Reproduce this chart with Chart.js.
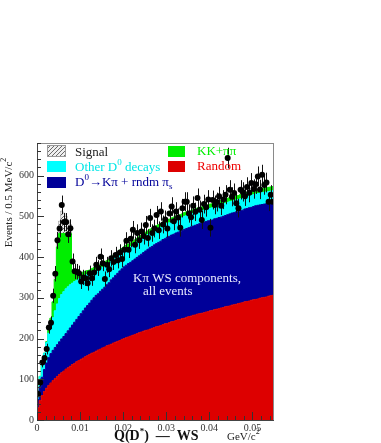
<!DOCTYPE html>
<html><head><meta charset="utf-8">
<script src="https://cdn.jsdelivr.net/npm/chart.js@4.4.1/dist/chart.umd.min.js"></script>
<style>html,body{margin:0;padding:0;background:#fff;}canvas{display:block;}</style>
</head><body>
<canvas id="c" width="381" height="443"></canvas>
<script>
// ---- binning (GeV) ----
const binWidth = 0.0005;
const nBins = 110;
const xTickLabels = ['0', '0.01', '0.02', '0.03', '0.04', '0.05'];
const yTickLabels = ['0', '100', '200', '300', '400', '500', '600'];

// ---- stacked components (events per bin) ----
const random = [30,48,60,70,78,85,91,97,102,107,112,116,120,125,128,132,136,139,143,146,149,152,155,158,161,164,166,169,172,174,177,179,182,184,186,189,191,193,195,198,200,202,204,206,208,210,212,214,216,218,220,221,223,225,227,229,230,232,234,236,237,239,241,242,244,246,247,249,250,252,254,255,257,258,260,261,262,263,265,266,268,269,271,272,273,275,276,278,279,280,282,283,284,286,287,288,290,291,292,294,295,296,297,299,300,301,302,304,305,306];
const d0KpiRndm = [20,34,45,54,62,68,72,74,76,78,80,83,85,87,91,94,97,101,104,108,112,116,120,123,126,130,134,137,138,142,144,147,150,153,158,160,164,167,171,173,176,178,180,181,183,185,187,189,191,193,195,198,200,201,203,204,206,207,209,209,212,212,213,214,215,215,216,216,218,218,218,219,219,220,220,221,222,222,222,223,222,222,223,223,224,223,224,224,225,226,226,226,227,226,227,227,228,228,229,228,229,230,230,229,229,229,229,228,228,228];
const otherD0 = [15,25,35,40,50,60,70,80,90,100,106,109,110,110,108,106,103,100,96,92,88,84,80,76,72,68,65,62,59,56,54,52,50,48,46,45,44,43,42,41,40,40,39,39,39,38,38,38,37,37,37,36,36,36,35,35,35,34,34,34,34,33,33,33,33,32,32,32,32,32,31,31,31,31,31,30,30,30,30,30,30,30,30,30,30,30,30,30,30,30,29,29,29,29,29,29,29,29,29,29,29,29,29,29,29,29,29,29,29,29];
const kkpipi = [0,0,0,0,2,7,17,39,77,140,160,150,143,136,131,126,25,20,16,14,12,11,10,10,9,9,9,9,9,9,9,9,9,9,9,9,9,9,9,9,9,9,9,9,9,9,9,9,9,9,9,9,9,9,9,9,9,9,9,9,9,9,9,9,9,9,9,9,9,9,9,9,9,9,9,9,9,9,9,9,10,10,10,10,10,10,10,10,10,10,10,10,10,10,10,10,10,10,10,10,10,10,10,10,10,10,10,10,10,10];
const signal = [0,0,0,0,0,0,0,0,5,12,30,55,50,42,32,22,6,0,0,0,0,0,0,0,0,0,0,0,0,0,0,0,0,0,0,0,0,0,0,0,0,0,0,0,0,0,0,0,0,0,0,0,0,0,0,0,0,0,0,0,0,0,0,0,0,0,0,0,0,0,0,0,0,0,0,0,0,0,0,0,0,0,0,0,0,0,0,0,0,0,0,0,0,0,0,0,0,0,0,0,0,0,0,0,0,0,0,0,0,0];
// ---- data points (events per bin) ----
const dataCounts = [64,92,141,152,174,227,239,305,359,441,470,528,486,486,456,471,389,365,364,360,340,350,348,336,360,348,362,381,373,401,385,346,381,370,397,388,405,392,411,395,418,440,418,445,467,430,459,441,463,452,479,447,496,459,470,503,466,512,480,492,470,507,524,488,512,497,472,520,536,536,507,498,526,511,545,516,491,530,522,541,472,540,528,535,549,526,541,553,643,565,548,557,532,520,565,560,549,572,558,582,567,579,598,566,602,577,583,536,553,536];

const COL = {red:'#dd0000', navy:'#000099', cyan:'#00ffff', green:'#00ee00'};

function makeHatch(ctx){
  const p = document.createElement('canvas'); p.width = 4; p.height = 4;
  const g = p.getContext('2d');
  g.fillStyle = '#eeeeee'; g.fillRect(0,0,4,4);
  g.fillStyle = '#6a6a6a';
  g.fillRect(3,0,1,1); g.fillRect(2,1,1,1); g.fillRect(1,2,1,1); g.fillRect(0,3,1,1);
  return ctx.createPattern(p,'repeat');
}
const canvas = document.getElementById('c');
const hatch = makeHatch(canvas.getContext('2d'));

const edges = [];
for (let i = 0; i <= nBins; i++) edges.push(i * binWidth);
const layers = [random, d0KpiRndm, otherD0, kkpipi, signal];
const layerColors = [COL.red, COL.navy, COL.cyan, COL.green, hatch];
const tops = [];
layers.forEach((arr, k) => {
  tops.push(arr.map((v, i) => v + (k ? tops[k-1][i] : 0)));
});

const datasets = layers.map((arr, k) => ({
  type: 'line',
  data: edges.map((x, i) => ({x: x, y: tops[k][Math.min(i, nBins-1)]})),
  stepped: 'before',
  fill: k === 0 ? 'origin' : {target: k - 1},
  backgroundColor: layerColors[k],
  borderColor: k === 4 ? '#9a9a9a' : layerColors[k],
  borderWidth: k === 4 ? 0.6 : 1,
  pointRadius: 0,
  order: 1
}));
const ptsIndex = datasets.length;
datasets.push({
  type: 'line',
  showLine: false,
  data: dataCounts.map((v, i) => ({x: edges[i] + binWidth/2, y: v})),
  pointRadius: 3,
  pointBackgroundColor: '#000',
  pointBorderColor: '#000',
  pointBorderWidth: 0,
  fill: false,
  order: -1
});

function rich(ctx, x, y, parts, color){
  let cx = x;
  parts.forEach(p => {
    ctx.font = (p.bold ? 'bold ' : '') + p.size + 'px "Liberation Serif", serif';
    ctx.fillStyle = p.color || color;
    ctx.fillText(p.t, cx, y + (p.dy || 0));
    cx += ctx.measureText(p.t).width;
  });
  return cx - x;
}

const decor = {
  id: 'decor',
  beforeDatasetDraw(chart, args){
    if (args.index !== ptsIndex) return;
    const ctx = chart.ctx, xs = chart.scales.x, ys = chart.scales.y;
    ctx.save();
    ctx.strokeStyle = '#111'; ctx.lineWidth = 1;
    dataCounts.forEach((v, i) => {
      const e = Math.sqrt(v);
      const px = Math.round(xs.getPixelForValue(edges[i] + binWidth/2)) + 0.5;
      ctx.beginPath();
      ctx.moveTo(px, ys.getPixelForValue(v - e));
      ctx.lineTo(px, ys.getPixelForValue(v + e));
      ctx.stroke();
    });
    ctx.restore();
  },
  afterDraw(chart){
    const ctx = chart.ctx, a = chart.chartArea, xs = chart.scales.x, ys = chart.scales.y;
    ctx.save();
    ctx.strokeStyle = '#8a8a8a'; ctx.lineWidth = 1;
    ctx.strokeRect(a.left + 0.5, a.top + 0.5, a.right - a.left - 1, a.bottom - a.top);
    ctx.strokeStyle = '#444';
    ctx.beginPath(); ctx.moveTo(a.left + 0.5, a.top); ctx.lineTo(a.left + 0.5, a.bottom + 0.5); ctx.lineTo(a.right, a.bottom + 0.5); ctx.stroke();
    ctx.strokeStyle = '#333';
    for (let v = 0; v <= 680; v += 20) {
      const py = Math.round(ys.getPixelForValue(v)) + 0.5;
      const len = v % 100 === 0 ? 7 : 4;
      ctx.beginPath(); ctx.moveTo(a.left, py); ctx.lineTo(a.left + len, py); ctx.stroke();
    }
    for (let k = 0; k <= 27; k++) {
      const v = k * 0.002;
      const px = Math.round(xs.getPixelForValue(v)) + 0.5;
      const len = k % 5 === 0 ? 8 : 4;
      ctx.beginPath(); ctx.moveTo(px, a.bottom); ctx.lineTo(px, a.bottom - len); ctx.stroke();
    }
    // legend
    ctx.fillStyle = hatch; ctx.fillRect(47, 145, 19, 12);
    ctx.strokeStyle = '#999'; ctx.strokeRect(47.5, 145.5, 18, 11);
    ctx.fillStyle = COL.cyan; ctx.fillRect(47, 161, 19, 11);
    ctx.fillStyle = COL.navy; ctx.fillRect(47, 177, 19, 11);
    ctx.fillStyle = COL.green; ctx.fillRect(168, 146, 17, 11);
    ctx.fillStyle = COL.red; ctx.fillRect(168, 161, 17, 11);
    ctx.textBaseline = 'alphabetic'; ctx.textAlign = 'left';
    rich(ctx, 75, 156, [{t:'Signal', size:13}], '#222');
    rich(ctx, 75, 171, [{t:'Other D', size:13}, {t:'0', size:9, dy:-6}, {t:' decays', size:13}], '#00e6e6');
    rich(ctx, 75, 186, [{t:'D', size:13}, {t:'0', size:9, dy:-6}, {t:'\u2192K\u03c0 + rndm \u03c0', size:13}, {t:'s', size:9, dy:3}], COL.navy);
    rich(ctx, 197, 155, [{t:'KK+\u03c0\u03c0', size:13}], COL.green);
    rich(ctx, 197, 170, [{t:'Random', size:13}], '#ee0000');
    rich(ctx, 133, 282, [{t:'K\u03c0 WS components,', size:13}], '#ececff');
    rich(ctx, 143, 295, [{t:'all events', size:13}], '#ececff');
    rich(ctx, 114, 440, [{t:'Q(D', size:14, bold:true}, {t:'*', size:9, bold:true, dy:-6}, {t:')  \u2014  WS', size:14, bold:true}], '#111');
    rich(ctx, 227, 440, [{t:'GeV/c', size:11}, {t:'2', size:8, dy:-6}], '#222');
    ctx.save();
    ctx.translate(12, 0);
    ctx.rotate(-Math.PI/2);
    ctx.font = '11px "Liberation Serif", serif';
    const w = ctx.measureText('Events / 0.5 MeV/c').width + 5;
    rich(ctx, -(202 + w/2), 0, [{t:'Events / 0.5 MeV/c', size:11}, {t:'2', size:8, dy:-6}], '#222');
    ctx.restore();
    ctx.restore();
  }
};

new Chart(canvas, {
  type: 'line',
  data: {datasets},
  options: {
    responsive: false,
    animation: false,
    devicePixelRatio: 1,
    layout: {padding: {top: 143, right: 107, left: 0, bottom: 0}},
    plugins: {legend: {display: false}, tooltip: {enabled: false}, filler: {propagate: false}},
    scales: {
      x: {
        type: 'linear', min: 0, max: 0.055,
        grid: {display: false, drawTicks: false}, border: {display: false},
        afterFit: s => { s.height = 23; },
        ticks: {stepSize: 0.01, includeBounds: false, padding: 2, maxRotation: 0, autoSkip: false,
          color: '#333', font: {family: '"Liberation Serif", serif', size: 10},
          callback: (v) => xTickLabels[Math.round(v / 0.01)] }
      },
      y: {
        type: 'linear', min: 0, max: 680,
        grid: {display: false, drawTicks: false}, border: {display: false},
        afterFit: s => { s.width = 37; },
        ticks: {stepSize: 100, includeBounds: false, padding: 3, autoSkip: false,
          color: '#333', font: {family: '"Liberation Serif", serif', size: 10},
          callback: (v) => yTickLabels[Math.round(v / 100)] }
      }
    }
  },
  plugins: [decor]
});
</script>
</body></html>
